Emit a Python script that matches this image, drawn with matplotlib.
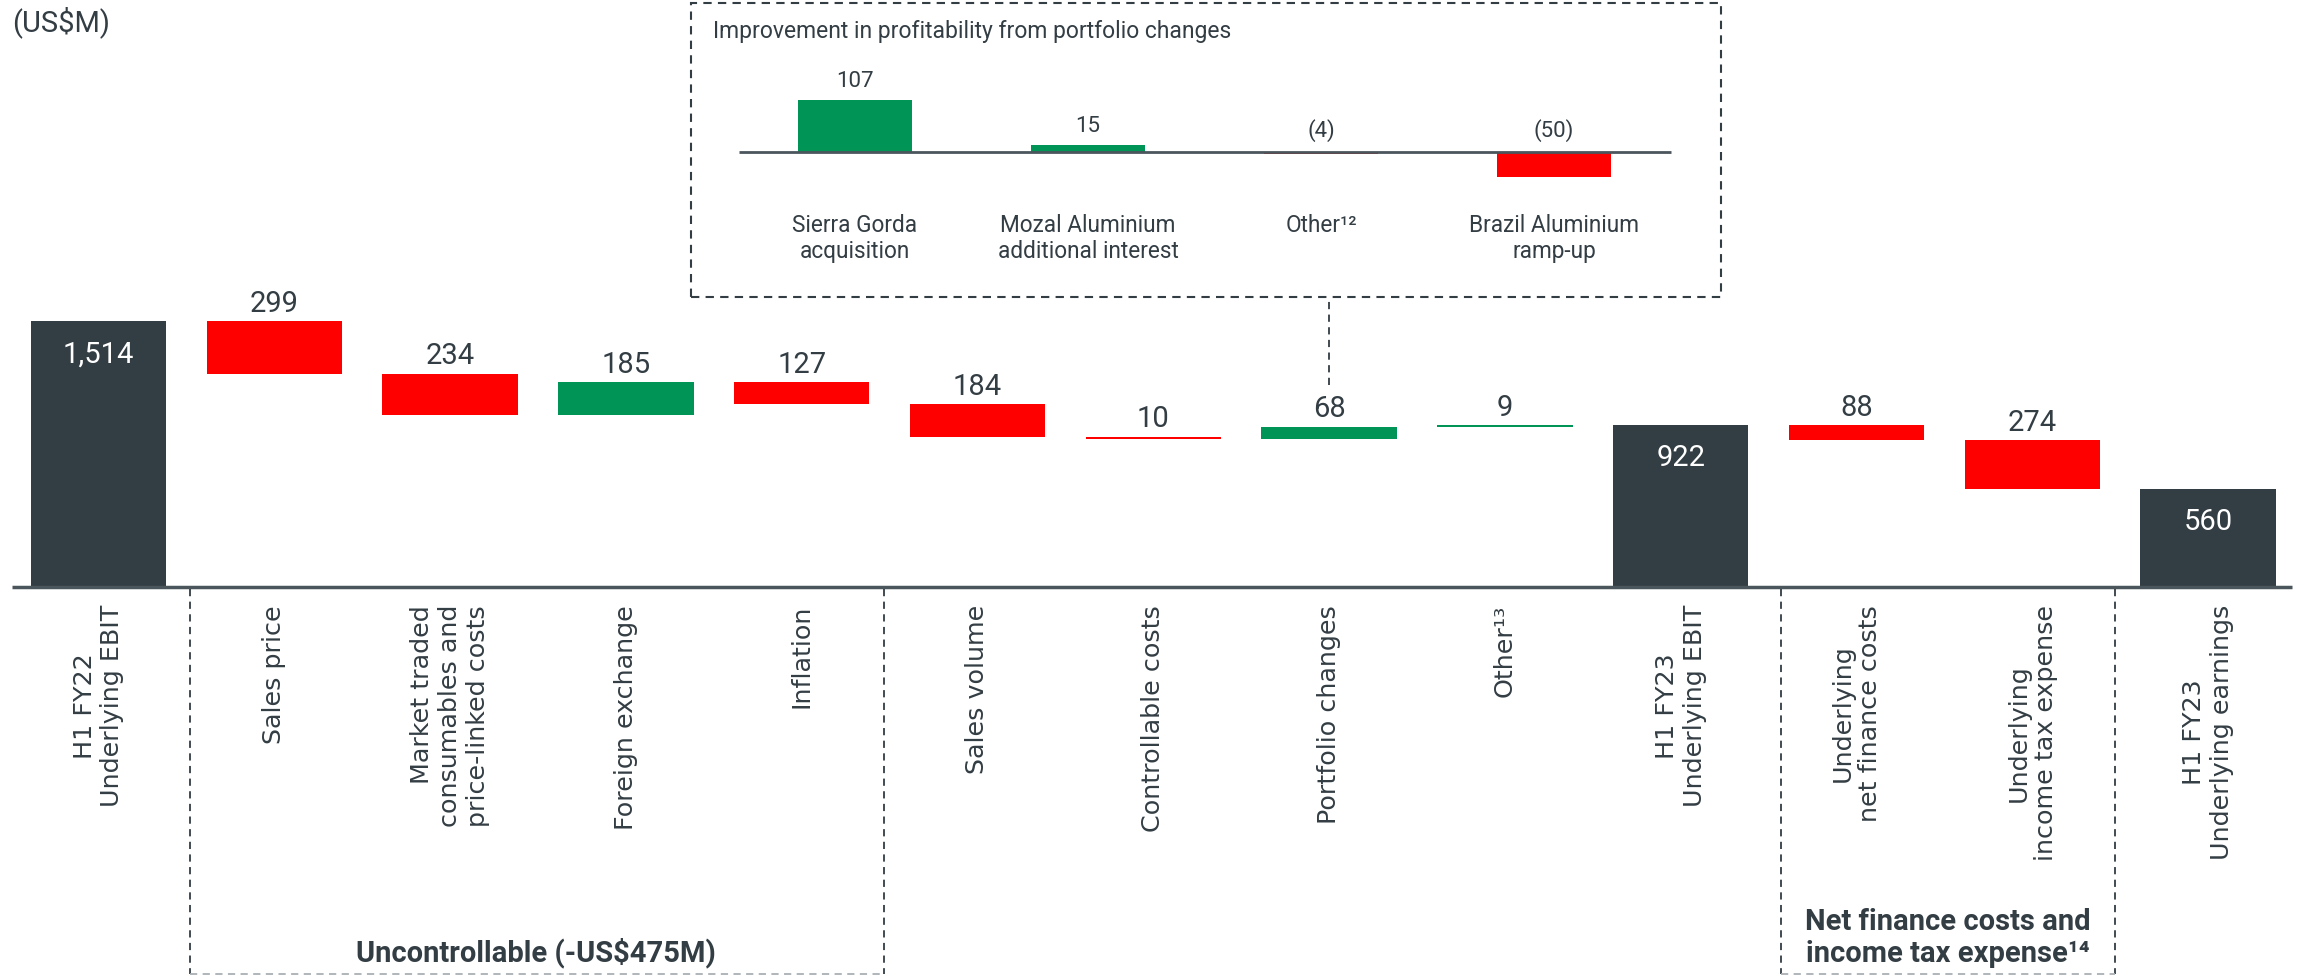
import matplotlib
matplotlib.use("Agg")
import matplotlib.pyplot as plt
from matplotlib.patches import Rectangle

# ---- data ----
categories = [
    "H1 FY22\nUnderlying EBIT", "Sales price",
    "Market traded\nconsumables and\nprice-linked costs", "Foreign exchange",
    "Inflation", "Sales volume", "Controllable costs", "Portfolio changes",
    "Other¹³", "H1 FY23\nUnderlying EBIT", "Underlying\nnet finance costs",
    "Underlying\nincome tax expense", "H1 FY23\nUnderlying earnings",
]
changes = [1514, -299, -234, 185, -127, -184, -10, 68, 9, 922, -88, -274, 560]
is_total = [True, False, False, False, False, False, False, False, False, True, False, False, True]
value_labels = ["1,514", "299", "234", "185", "127", "184", "10", "68", "9", "922", "88", "274", "560"]

inset_categories = ["Sierra Gorda\nacquisition", "Mozal Aluminium\nadditional interest",
                    "Other¹²", "Brazil Aluminium\nramp-up"]
inset_values = [107, 15, -4, -50]
inset_labels = ["107", "15", "(4)", "(50)"]

DARK = "#333d44"
RED = "#ff0000"
GREEN = "#009556"
AXIS = "#4a555c"
NUM_FONT = ["Roboto", "DejaVu Sans"]
LBL_FONT = ["DejaVu Sans"]

fig = plt.figure(figsize=(23.05, 9.78), dpi=100)
ax = fig.add_axes([0, 0, 1, 1])
# pixel mapping: bar pitch 175.8 px, 0.1757 px per US$M, baseline at 588 px
ax.set_xlim(-98.5 / 175.8, (2305 - 98.5) / 175.8)
ax.set_ylim(-390 / 0.1757, 588 / 0.1757)
ax.axis("off")

# waterfall bottoms / heights
bottoms, heights, colors = [], [], []
running = 0
for ch, tot in zip(changes, is_total):
    if tot:
        bottoms.append(0)
        heights.append(ch)
        colors.append(DARK)
        running = ch
    else:
        new = running + ch
        bottoms.append(min(running, new))
        heights.append(abs(ch))
        colors.append(GREEN if ch > 0 else RED)
        running = new

xs = list(range(len(categories)))
ax.bar(xs, heights, bottom=bottoms, width=0.77, color=colors, linewidth=0)
ax.hlines(0, -0.49, 12.48, color=AXIS, lw=2.5)

for x, b, h, tot, lab in zip(xs, bottoms, heights, is_total, value_labels):
    if tot:
        ax.annotate(lab, (x, b + h), xytext=(0, -29), textcoords="offset points",
                    ha="center", va="baseline", color="white", fontsize=21, family=NUM_FONT)
    else:
        ax.annotate(lab, (x, b + h), xytext=(0, 7.5), textcoords="offset points",
                    ha="center", va="baseline", color=DARK, fontsize=21, family=NUM_FONT)

for x, cat in zip(xs, categories):
    ma = "right" if cat.startswith("Market") else "center"
    ax.text(x, -97, cat, rotation=90, ha="center", va="top", multialignment=ma,
            fontsize=18.3, color=DARK, family=LBL_FONT)

# group brackets
ybot = -(975 - 588) / 0.1757
for xv in [0.52, 4.47, 9.57, 11.47]:
    ax.plot([xv, xv], [-12, ybot], ls=(0, (4, 3)), color=DARK, lw=1.3)
ax.plot([0.52, 4.47], [ybot, ybot], ls=(0, (4, 3)), color="#aab0b4", lw=1.3)
ax.plot([9.57, 11.47], [ybot, ybot], ls=(0, (4, 3)), color="#aab0b4", lw=1.3)
ax.text(2.49, -(953 - 588) / 0.1757, "Uncontrollable (-US$475M)", ha="center", va="center",
        fontsize=21, fontweight="bold", color=DARK, family=NUM_FONT)
ax.text(10.52, -(938 - 588) / 0.1757, "Net finance costs and\nincome tax expense¹⁴",
        ha="center", va="center", fontsize=21, fontweight="bold", color=DARK,
        family=NUM_FONT, linespacing=1.2)

ax.text(12 / 175.8 - 98.5 / 175.8, (588 - 22) / 0.1757, "(US$M)", ha="left", va="center",
        fontsize=21, color=DARK, family=NUM_FONT)

# connector from inset to portfolio changes bar
ax.plot([7, 7], [(588 - 386) / 0.1757, (588 - 298) / 0.1757], ls=(0, (4, 3)), color=DARK, lw=1.3)

# ---- inset ----
ax2 = fig.add_axes([691 / 2305, (978 - 298) / 978, 1030 / 2305, 294 / 978])
ax2.set_xlim((691 - 855) / 233, (1721 - 855) / 233)
ax2.set_ylim(-(298 - 153) / 0.49, (153 - 4) / 0.49)
ax2.axis("off")
ax2.add_patch(Rectangle((0, 0), 1, 1, transform=ax2.transAxes, fill=False,
                        ls=(0, (4, 3)), lw=1.5, edgecolor=DARK, clip_on=False))
ix = list(range(len(inset_values)))
ax2.bar(ix, inset_values, width=0.49, linewidth=0,
        color=[GREEN if v > 0 else RED for v in inset_values])
ax2.hlines(0, -0.5, 3.5, color=AXIS, lw=2)
for x, v, lab in zip(ix, inset_values, inset_labels):
    ax2.annotate(lab, (x, max(v, 0)), xytext=(0, 10 if v > 0 else 11.5), textcoords="offset points",
                 ha="center", va="baseline", fontsize=16, color=DARK, family=NUM_FONT)
    ax2.text(x, -124, inset_categories[x], ha="center", va="top", fontsize=16.3,
             color=DARK, family=NUM_FONT, linespacing=1.2)
ax2.text(0.021, 0.905, "Improvement in profitability from portfolio changes", transform=ax2.transAxes,
         ha="left", va="center", fontsize=16.5, color=DARK, family=NUM_FONT)

fig.savefig("out.png", dpi=100)
